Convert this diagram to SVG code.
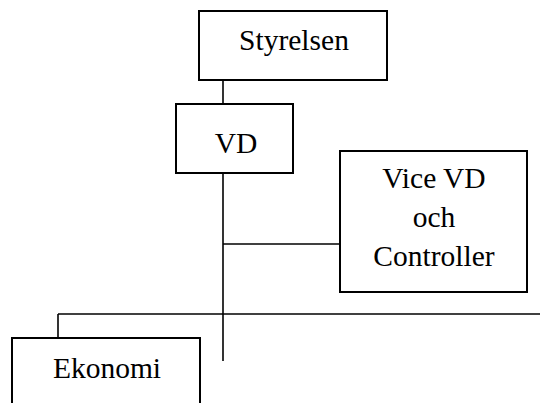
<svg xmlns="http://www.w3.org/2000/svg" width="540" height="403" viewBox="0 0 540 403">
<style>
.box{fill:#fff;stroke:#000;stroke-width:2}
.ln{fill:none;stroke:#000;stroke-width:1.6}
text{font-family:"Liberation Serif","Times New Roman",serif;font-size:29.5px;fill:#000;text-anchor:middle}
</style>
<rect width="540" height="403" fill="#fff"/>
<g id="connectors">
<line class="ln" x1="223" y1="80" x2="223" y2="104"/>
<line class="ln" x1="223" y1="173" x2="223" y2="361"/>
<line class="ln" x1="223" y1="244" x2="340" y2="244"/>
<line class="ln" x1="58" y1="314" x2="540" y2="314"/>
<line class="ln" x1="58" y1="314" x2="58" y2="338"/>
</g>
<g id="styrelsen">
<rect class="box" x="199" y="11" width="188" height="69"/>
<text x="294" y="50">Styrelsen</text>
</g>
<g id="vd">
<rect class="box" x="176" y="104" width="117" height="69"/>
<text x="236" y="153">VD</text>
</g>
<g id="vicevd">
<rect class="box" x="340" y="151" width="187" height="141"/>
<text x="434" y="188">Vice VD</text>
<text x="434" y="227">och</text>
<text x="434" y="266">Controller</text>
</g>
<g id="ekonomi">
<rect class="box" x="12" y="338" width="188" height="80"/>
<text x="107" y="378">Ekonomi</text>
</g>
</svg>
